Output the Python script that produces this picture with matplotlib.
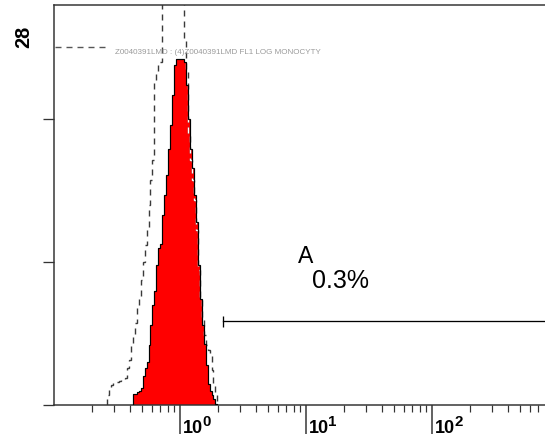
import numpy as np
import matplotlib
matplotlib.use("Agg")
import matplotlib.pyplot as plt
from matplotlib.ticker import FixedLocator, NullFormatter

plt.rcParams['font.family'] = ['Liberation Sans', 'DejaVu Sans']
plt.rcParams['lines.scale_dashes'] = False

# FL1 log scale, 64 channels per decade; channel 0 starts at 10^0
CHANNELS_PER_DECADE = 64

# stained sample (filled red histogram)
sample_first_channel = -24
sample_counts = [0.8, 0.8, 0.9, 1.0, 1.2, 2.0, 2.6, 3.0, 4.2, 5.6, 7.0, 8.0,
                 9.8, 11.0, 11.3, 13.3, 14.7, 16.1, 17.9, 19.6, 21.7, 23.8,
                 24.2, 24.2, 24.2, 24.2, 24.0, 22.4, 20.0, 17.9, 16.6, 14.7,
                 12.8, 9.8, 7.4, 5.6, 4.3, 2.8, 1.5, 1.0, 0.7, 0.4, 0.1]

# control overlay (dashed histogram, peak runs off scale)
control_first_channel = -37
control_counts = [0.7, 1.05, 1.4, 1.55, 1.6, 1.6, 1.7, 1.75, 1.75, 1.9,
                  2.6, 3.15, 4.2, 4.9, 5.75, 6.8, 7.5, 8.75, 10.0, 11.2,
                  12.25, 14.0, 15.75, 17.15, 22.75, 23.3, 23.8, 24.0,
                  30.5, 31.5, 32.4, 33.0, 33.6, 33.1, 32.2, 31.4, 30.6, 29.8,
                  29.1, 25.5, 23.45, 18.9, 17.15, 15.75, 14.35, 12.25, 9.45,
                  7.56, 5.95, 4.9, 4.2, 3.85, 3.5, 2.45, 1.4, 0.7]

y_max = 28
y_ticks = [0, 10, 20]
x_low_decade = -1
decades = [0, 1, 2, 3]
labelled_decades = [0, 1, 2]

gate_name = "A"
gate_percent = "0.3%"
gate_low = 2.19
gate_high = 1000.0
gate_level = 5.9

overlay_label = "Z0040391LMD : (4)Z0040391LMD FL1 LOG MONOCYTY"


def channel_edges(first, n):
    return 10.0 ** ((first + np.arange(n + 1)) / CHANNELS_PER_DECADE)


sample_edges = channel_edges(sample_first_channel, len(sample_counts))
control_edges = channel_edges(control_first_channel, len(control_counts))

W, H = 545, 437
fig = plt.figure(figsize=(W / 72, H / 72), dpi=72)
ax = fig.add_axes([54 / W, 32 / H, 504 / W, 400 / H])
ax.set_xscale('log')
ax.set_xlim(10.0 ** x_low_decade, 10.0 ** decades[-1])
ax.set_ylim(0, y_max)

dash = (0, (6, 5))
fill = ax.stairs(sample_counts, sample_edges, fill=True, color='#ff0000',
                 lw=0, zorder=1)
ax.stairs(control_counts, control_edges, color='#3a3a3a', lw=1.4,
          linestyle=dash, zorder=2)
inside = ax.stairs(control_counts, control_edges, color='white', lw=1.4,
                   linestyle=dash, zorder=2.5)
inside.set_clip_path(fill)
ax.stairs(sample_counts, sample_edges, color='black', lw=1.2, zorder=3)

# gate marker
ax.plot([gate_low, gate_high], [gate_level, gate_level], color='black',
        lw=1.3, zorder=3)
ax.plot([gate_low], [gate_level], marker='|', markersize=11, mew=1.3,
        color='black', zorder=3)
ax.text(8.64, 9.94, gate_name, fontsize=23, ha='left', va='baseline')
ax.text(11.2, 8.19, gate_percent, fontsize=25, ha='left', va='baseline')

# overlay legend
ax.plot([0.002, 0.111], [0.895, 0.895], transform=ax.transAxes,
        color='#555555', lw=1.4, linestyle=dash, clip_on=False)
ax.text(0.121, 0.8825, overlay_label, transform=ax.transAxes, fontsize=8,
        color='#9a9a9a', va='center', ha='left')

# axes frame and ticks
for side in ('left', 'top', 'bottom'):
    ax.spines[side].set_linewidth(1.5)
    ax.spines[side].set_color('#333333')
ax.spines['right'].set_visible(False)

ax.set_yticks(y_ticks)
ax.tick_params(axis='y', length=11, width=1.3, direction='out',
               color='#333333', labelleft=False)
ax.xaxis.set_major_locator(FixedLocator([10.0 ** d for d in decades]))
ax.xaxis.set_minor_locator(FixedLocator(
    [m * 10.0 ** d for d in [x_low_decade] + decades[:-1]
     for m in range(2, 10)]))
ax.xaxis.set_major_formatter(NullFormatter())
ax.xaxis.set_minor_formatter(NullFormatter())
ax.tick_params(axis='x', which='major', length=29, width=1.5,
               direction='out', color='#333333')
ax.tick_params(axis='x', which='minor', length=7, width=1.2,
               direction='out', color='#333333')

for d in labelled_decades:
    ax.annotate('10', xy=(10.0 ** d, 0), xycoords=('data', 'axes fraction'),
                xytext=(3, -28), textcoords='offset points', ha='left',
                va='baseline', fontsize=18, fontweight='bold',
                annotation_clip=False)
    ax.annotate(str(d), xy=(10.0 ** d, 0),
                xycoords=('data', 'axes fraction'), xytext=(22, -21),
                textcoords='offset points', ha='left', va='baseline',
                fontsize=15, fontweight='bold', annotation_clip=False)

fig.text(24 / W, 1 - 37 / H, str(y_max), rotation=90, ha='center',
         va='center', fontsize=20, fontweight='bold')

fig.savefig('out.png', dpi=72)
